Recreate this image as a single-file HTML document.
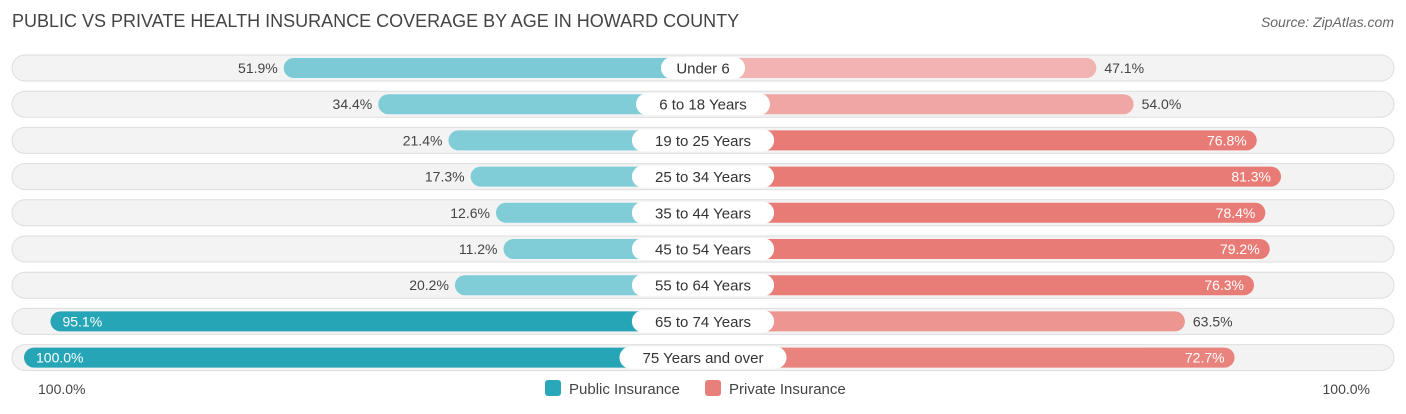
<!DOCTYPE html>
<html><head><meta charset="utf-8"><style>
body{margin:0;background:#fff;font-family:"Liberation Sans",sans-serif;}
svg{display:block}
</style></head><body>
<svg id="c" width="1406" height="414">
<text x="12" y="27" font-size="18" fill="#444">PUBLIC VS PRIVATE HEALTH INSURANCE COVERAGE BY AGE IN HOWARD COUNTY</text>
<text x="1394" y="27" font-size="14" fill="#666" font-style="italic" text-anchor="end">Source: ZipAtlas.com</text>
<g id="rows"></g>
<text x="38" y="394" font-size="14" fill="#444">100.0%</text>
<text x="1370" y="394" font-size="14" fill="#444" text-anchor="end">100.0%</text>
<rect x="545" y="380" width="16" height="16" rx="3" fill="#2aa7b8"/>
<text x="569" y="394" font-size="15" fill="#444">Public Insurance</text>
<rect x="705" y="380" width="16" height="16" rx="3" fill="#e8807a"/>
<text x="729" y="394" font-size="15" fill="#444">Private Insurance</text>
</svg>
<script>
const categories=["Under 6","6 to 18 Years","19 to 25 Years","25 to 34 Years","35 to 44 Years","45 to 54 Years","55 to 64 Years","65 to 74 Years","75 Years and over"];
const publicValues=[51.9,34.4,21.4,17.3,12.6,11.2,20.2,95.1,100.0];
const privateValues=[47.1,54.0,76.8,81.3,78.4,79.2,76.3,63.5,72.7];
const NS="http://www.w3.org/2000/svg";
const cx=703,off=139,scale=5.4,y0=68,step=36.2;
const xPub=v=>cx-off-v*scale, xPriv=v=>cx+off+v*scale, yRow=i=>y0+i*step;
function mix(a,b,t){t=Math.max(0,Math.min(1,t));return "rgb("+a.map((x,i)=>Math.round(x+(b[i]-x)*t)).join(",")+")";}
const pubCol=v=>mix([128,204,215],[38,165,182],(v-50)/45);
const privCol=v=>mix([243,184,182],[232,123,117],(v-45)/32);
function el(t,a,p){const e=document.createElementNS(NS,t);for(const k in a)e.setAttribute(k,a[k]);p.appendChild(e);return e;}
const g=document.getElementById('rows');
categories.forEach((c,i)=>{
 const y=yRow(i);
 const bg=el('rect',{x:12,y:y-13,width:1382,height:26,rx:13,fill:'#f3f3f3',stroke:'#dedede','stroke-width':1},g);
 
 
 const pv=publicValues[i],rv=privateValues[i];
 const xp=xPub(pv);
 const pb=el('rect',{x:xp,y:y-10,width:cx-xp,height:20,rx:10,fill:pubCol(pv)},g);
 
 
 const xr=xPriv(rv);
 const rb=el('rect',{x:cx,y:y-10,width:xr-cx,height:20,rx:10,fill:privCol(rv)},g);
 
 
 const inP=pv>=90;
 const tp=el('text',{x:inP?xp+12:xp-6,y:y+5,'font-size':14,fill:inP?'#fff':'#444','text-anchor':inP?'start':'end'},g);
 tp.textContent=pv.toFixed(1)+'%';
 
 
 const inR=rv>=70;
 const tr=el('text',{x:inR?xr-10:xr+8,y:y+5,'font-size':14,fill:inR?'#fff':'#444','text-anchor':inR?'end':'start'},g);
 tr.textContent=rv.toFixed(1)+'%';
 
 
 const w=c.length*8.3+26;
 const lb=el('rect',{x:cx-w/2,y:y-11,width:w,height:22,rx:11,fill:'#fff'},g);
 
 
 const lt=el('text',{x:cx,y:y+5.5,'font-size':15,fill:'#333','text-anchor':'middle'},g);
 lt.textContent=c;
 
 
});
</script>
</body></html>
